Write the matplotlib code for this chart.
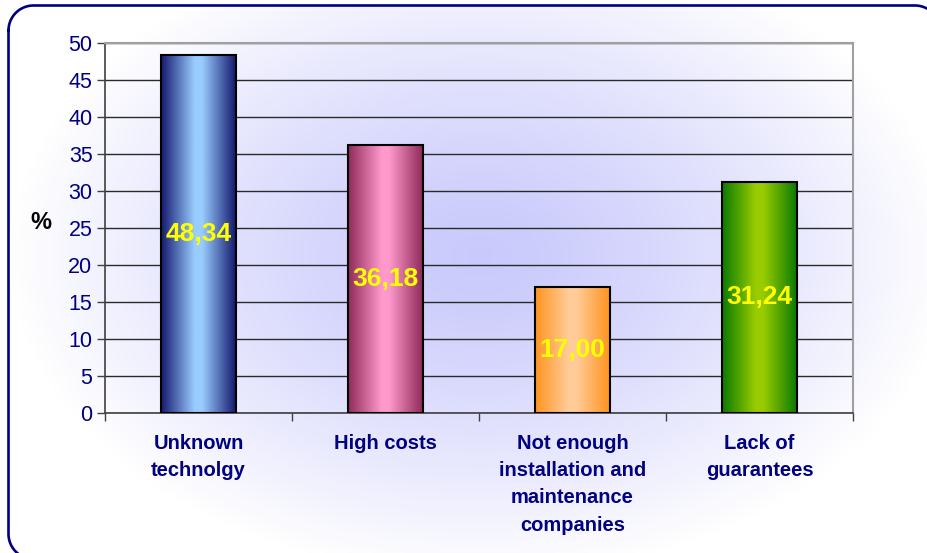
import numpy as np
import matplotlib
matplotlib.use("Agg")
import matplotlib.pyplot as plt
from matplotlib.colors import LinearSegmentedColormap

plt.rcParams['font.family'] = ['Liberation Sans', 'DejaVu Sans']

categories = ["Unknown\ntechnolgy", "High costs", "Not enough\ninstallation and\nmaintenance\ncompanies", "Lack of\nguarantees"]
values = [48.34, 36.18, 17.00, 31.24]
value_labels = ["48,34", "36,18", "17,00", "31,24"]
yticks = [0, 5, 10, 15, 20, 25, 30, 35, 40, 45, 50]
bar_colors = [("#14196e", "#99ccff"), ("#8f2a5a", "#ff99cc"), ("#ff9320", "#ffcc99"), ("#0a7a00", "#99cc00")]

navy = "#000080"
fig = plt.figure(figsize=(9.28, 5.53), dpi=100)
fig.patch.set_facecolor("white")

# background radial gradient
bg = fig.add_axes([0, 0, 1, 1], zorder=0)
bg.set_axis_off()
W, H = 928, 553
yy, xx = np.mgrid[0:H, 0:W]
cx, cy = 480, 255
r = np.sqrt(((xx - cx) / 470.0) ** 2 + ((yy - cy) / 320.0) ** 2)
t = np.clip(r, 0, 1) ** 1.3
c0 = np.array([0.79, 0.79, 0.99])
c1 = np.array([1.0, 1.0, 1.0])
img = c0[None, None, :] * (1 - t[..., None]) + c1[None, None, :] * t[..., None]
img[:5, :, :] = 1.0
img[:, :8, :] = 1.0
bg.imshow(img, extent=[0, W, H, 0], aspect='auto', interpolation='bilinear')

# rounded frame (runs off the right and bottom edges)
fl, ft, fr, fb, rad = 8.5, 5.5, 940.0, 559.0, 25.0
def arc(xc, yc, a0, a1):
    a = np.radians(np.linspace(a0, a1, 30))
    return list(xc + rad * np.cos(a)), list(yc + rad * np.sin(a))
px, py = [], []
for (xc, yc, a0, a1) in [(fl + rad, ft + rad, 180, 270), (fr - rad, ft + rad, 270, 360),
                         (fr - rad, fb - rad, 0, 90), (fl + rad, fb - rad, 90, 180)]:
    ax_, ay_ = arc(xc, yc, a0, a1)
    px += ax_
    py += ay_
px.append(px[0])
py.append(py[0])
bg.plot(px, py, color=navy, lw=1.9, solid_capstyle='round', clip_on=True)
bg.set_xlim(0, W)
bg.set_ylim(H, 0)
bg.patch.set_alpha(0)

ax = fig.add_axes([105 / 928, 140 / 553, 748 / 928, 370 / 553], zorder=1)
ax.patch.set_alpha(0)
x = np.arange(len(values))
bars = ax.bar(x, values, width=0.4, color="none", edgecolor="black", linewidth=1.5, zorder=4)
for b, (dark, light), lab, v in zip(bars, bar_colors, value_labels, values):
    cmap = LinearSegmentedColormap.from_list("g", [(0, dark), (0.45, light), (0.55, light), (1, dark)])
    grad = np.linspace(0, 1, 256)[None, :]
    x0, w, h = b.get_x(), b.get_width(), b.get_height()
    ax.imshow(grad, cmap=cmap, extent=[x0, x0 + w, 0, h], aspect='auto', zorder=3, interpolation='bilinear')
    ax.text(b.get_x() + w / 2, h / 2, lab, ha='center', va='center', color="#ffff00",
            fontsize=19, fontweight='bold', zorder=5)

ax.set_xlim(-0.5, 3.5)
ax.set_ylim(0, 50)
ax.set_yticks(yticks)
ax.yaxis.grid(True, color="#2a2a2a", linewidth=1.0, zorder=1)
ax.set_axisbelow(True)
ax.tick_params(axis='y', labelsize=15.5, labelcolor=navy, length=6, width=1, color="#404040", pad=3)
ax.set_xticks(x)
ax.set_xticklabels(categories, fontsize=14.5, fontweight='bold', color=navy, linespacing=1.55, va='top')
ax.tick_params(axis='x', length=0, pad=15)
ax.set_xticks([-0.5, 0.5, 1.5, 2.5, 3.5], minor=True)
ax.tick_params(axis='x', which='minor', length=6, width=1, color="#404040")
for s in ['left', 'bottom']:
    ax.spines[s].set_color("#404040")
    ax.spines[s].set_linewidth(1.2)
ax.spines['right'].set_color("#a0a0a0")
ax.spines['top'].set_color("#a0a0a0")
ax.spines['right'].set_linewidth(1.5)
ax.spines['top'].set_linewidth(1.5)

fig.text(41 / 928, 1 - 222 / 553, "%", fontsize=17, fontweight='bold', color="black", ha='center', va='center')

fig.savefig("out.png", dpi=100)
